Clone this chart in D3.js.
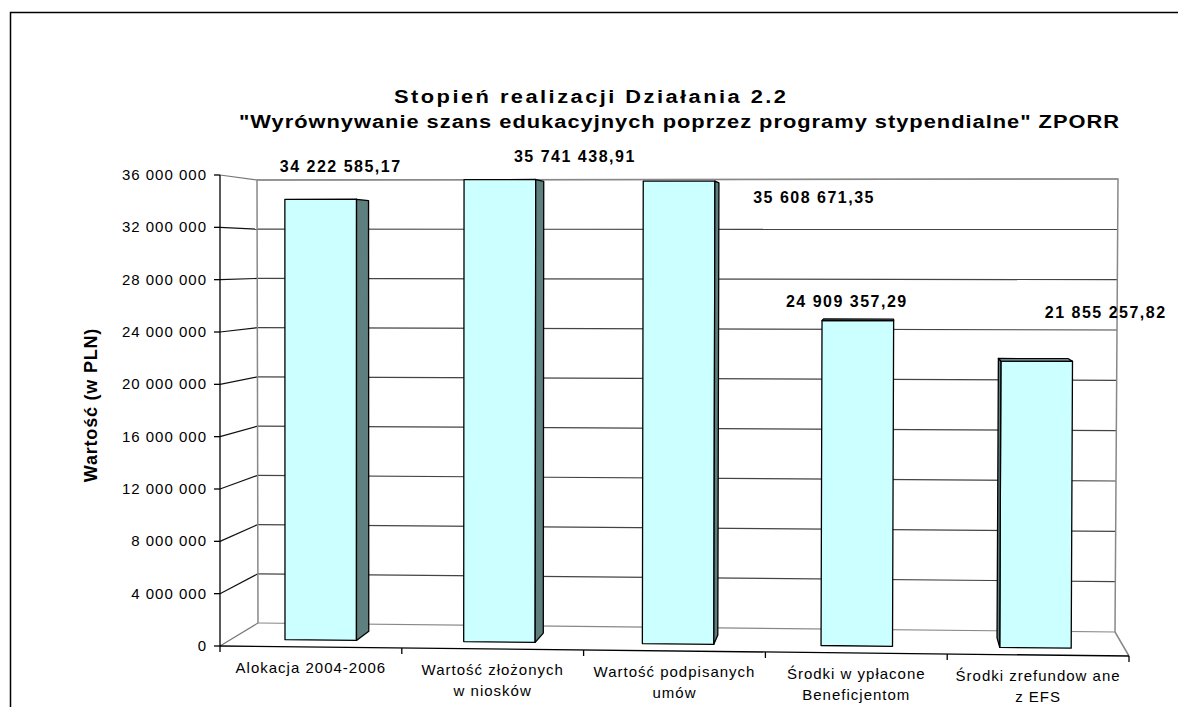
<!DOCTYPE html>
<html>
<head>
<meta charset="utf-8">
<script src="https://cdn.jsdelivr.net/npm/d3@7"></script>
<style>
  body { margin: 0; background: #fff; overflow: hidden; }
  svg { display: block; }
  text { font-family: Arial, "Liberation Sans", sans-serif; fill: #000; }
</style>
</head>
<body>
<div id="chart"></div>
<script>
// data
const categories = [
  ["Alokacja 2004-2006"],
  ["Wartość złożonych", "w niosków"],
  ["Wartość podpisanych", "umów"],
  ["Środki w ypłacone", "Beneficjentom"],
  ["Środki zrefundow ane", "z EFS"]
];
const values = [34222585.17, 35741438.91, 35608671.35, 24909357.29, 21855257.82];
const valueLabels = ["34 222 585,17", "35 741 438,91", "35 608 671,35", "24 909 357,29", "21 855 257,82"];
const yTicks = [0, 4000000, 8000000, 12000000, 16000000, 20000000, 24000000, 28000000, 32000000, 36000000];
const yTickLabels = ["0", "4 000 000", "8 000 000", "12 000 000", "16 000 000", "20 000 000",
  "24 000 000", "28 000 000", "32 000 000", "36 000 000"];
const titleLines = ["Stopień realizacji Działania 2.2",
  "\"Wyrównywanie szans edukacyjnych poprzez programy stypendialne\" ZPORR"];
const yTitle = "Wartość (w PLN)";

const width = 1178, height = 707;

const svg = d3.select('#chart')
  .append('svg')
  .attr('width', width)
  .attr('height', height);

// outer frame (cut off right and bottom like the source)
svg.append('path')
  .attr('d', 'M10.5,707 L10.5,12.5 L1178,12.5')
  .attr('fill', 'none')
  .attr('stroke', '#000')
  .attr('stroke-width', 1.5);

// 3d box corners on screen: front/back, left/right, bottom/top
const box = {
  flb: [220, 646], frb: [1129, 656], flt: [220, 175], frt: [1131, 174],
  blb: [258, 623], brb: [1115, 632], blt: [257, 180], brt: [1118, 179]
};
const lerp = (a, b, t) => [a[0] + (b[0] - a[0]) * t, a[1] + (b[1] - a[1]) * t];
// u: along categories, v: value, w: depth (0 front, 1 back)
function P(u, v, w) {
  const fb = lerp(box.flb, box.frb, u), ft = lerp(box.flt, box.frt, u);
  const bb = lerp(box.blb, box.brb, u), bt = lerp(box.blt, box.brt, u);
  return lerp(lerp(fb, ft, v), lerp(bb, bt, v), w);
}

const x = d3.scaleBand().domain(d3.range(categories.length)).range([0, 1])
  .paddingInner(0.6).paddingOuter(0.3);
const xEdge = d3.scaleLinear().domain([0, categories.length]).range([0, 1]);
const y = d3.scaleLinear().domain([0, 36000000]).range([0, 1]);
const depth = [0.3, 0.7];

const line = d3.line();

// walls
const walls = svg.append('g');
// gridlines on left wall + back wall
yTicks.forEach(t => {
  const v = y(t);
  walls.append('path')
    .attr('d', line([P(0, v, 0), P(0, v, 1)]))
    .attr('stroke', t === 0 || t === 36000000 ? '#777' : '#111')
    .attr('stroke-width', 1.2).attr('fill', 'none');
  walls.append('path')
    .attr('d', line([P(0, v, 1), P(1, v, 1)]))
    .attr('stroke', t === 0 || t === 36000000 ? '#888' : '#444')
    .attr('stroke-width', 1.2).attr('fill', 'none');
});
// back wall edges
walls.append('path')
  .attr('d', line([P(0, 0, 1), P(0, 1, 1), P(1, 1, 1), P(1, 0, 1), P(1, 0, 0)]))
  .attr('stroke', '#888').attr('stroke-width', 1.5).attr('fill', 'none');
// front floor edge
walls.append('path')
  .attr('d', line([P(0, 0, 0), P(1, 0, 0)]))
  .attr('stroke', '#000').attr('stroke-width', 1.3).attr('fill', 'none');

// bars
function faces(i) {
  const u0 = x(i), u1 = x(i) + x.bandwidth(), v = y(values[i]);
  const [w0, w1] = depth;
  return [
    { pts: [P(u0, 0, w0), P(u1, 0, w0), P(u1, v, w0), P(u0, v, w0)], fill: '#ccffff' },
    { pts: [P(u1, 0, w0), P(u1, 0, w1), P(u1, v, w1), P(u1, v, w0)], fill: '#5f7f7f' },
    { pts: [P(u0, 0, w1), P(u0, 0, w0), P(u0, v, w0), P(u0, v, w1)], fill: '#5f7f7f' },
    { pts: [P(u0, v, w0), P(u1, v, w0), P(u1, v, w1), P(u0, v, w1)], fill: '#8fb3b3' }
  ];
}
const area2 = pts => d3.sum(pts, (p, k) => {
  const q = pts[(k + 1) % pts.length];
  return p[0] * q[1] - q[0] * p[1];
});

const bars = svg.append('g');
values.forEach((d, i) => {
  const fs = faces(i);
  const ref = Math.sign(area2(fs[0].pts));
  fs.filter(f => Math.sign(area2(f.pts)) === ref && Math.abs(area2(f.pts)) > 0.5)
    .forEach(f => {
      bars.append('path')
        .attr('d', line(f.pts) + 'Z')
        .attr('fill', f.fill)
        .attr('stroke', '#000')
        .attr('stroke-width', 1.3)
        .attr('stroke-linejoin', 'round');
    });
});

// y axis
const axis = svg.append('g');
axis.append('path')
  .attr('d', line([P(0, 0, 0), P(0, 1, 0)]))
  .attr('stroke', '#000').attr('stroke-width', 1.3);
yTicks.forEach((t, k) => {
  const p = P(0, y(t), 0);
  axis.append('path')
    .attr('d', line([[p[0] - 6, p[1]], p]))
    .attr('stroke', '#000').attr('stroke-width', 1.3);
  axis.append('text')
    .attr('x', p[0] - 13)
    .attr('y', p[1] + 5)
    .attr('text-anchor', 'end')
    .attr('font-size', 15)
    .attr('letter-spacing', 1)
    .text(yTickLabels[k]);
});

// category ticks + labels
d3.range(categories.length + 1).forEach(k => {
  const p = P(xEdge(k), 0, 0);
  axis.append('path')
    .attr('d', line([p, [p[0], p[1] + 6]]))
    .attr('stroke', '#000').attr('stroke-width', 1.3);
});
categories.forEach((lines, i) => {
  const p = P(xEdge(i + 0.5), 0, 0);
  const t = axis.append('text')
    .attr('text-anchor', 'middle')
    .attr('font-size', 15)
    .attr('letter-spacing', 1);
  lines.forEach((s, j) => {
    t.append('tspan')
      .attr('x', p[0])
      .attr('y', p[1] + 26 + j * 21)
      .text(s);
  });
});

// data labels (offsets from the top-front of each bar, as placed in the source)
const labelShift = [[20, -27], [75, -18], [135, 22], [-11, -14], [69, -43]];
values.forEach((d, i) => {
  const p = P(x(i) + x.bandwidth() / 2, y(d), depth[0]);
  svg.append('text')
    .attr('x', p[0] + labelShift[i][0])
    .attr('y', p[1] + labelShift[i][1])
    .attr('text-anchor', 'middle')
    .attr('font-size', 16)
    .attr('font-weight', 'bold')
    .attr('letter-spacing', 1.5)
    .text(valueLabels[i]);
});

// titles (slightly widened glyphs, like the source rendering)
const stretch = 1.15;
[[590, 103, 392], [679, 128, 880]].forEach(([cx, cy, len], k) => {
  svg.append('g')
    .attr('transform', `translate(${cx},${cy}) scale(${stretch},1)`)
    .append('text')
    .attr('text-anchor', 'middle')
    .attr('font-size', 19).attr('font-weight', 'bold')
    .attr('textLength', len / stretch).attr('lengthAdjust', 'spacing')
    .text(titleLines[k]);
});

svg.append('text')
  .attr('transform', 'translate(97,405) rotate(-90)')
  .attr('text-anchor', 'middle')
  .attr('font-size', 18).attr('font-weight', 'bold')
  .attr('letter-spacing', 0.8)
  .text(yTitle);
</script>
</body>
</html>
